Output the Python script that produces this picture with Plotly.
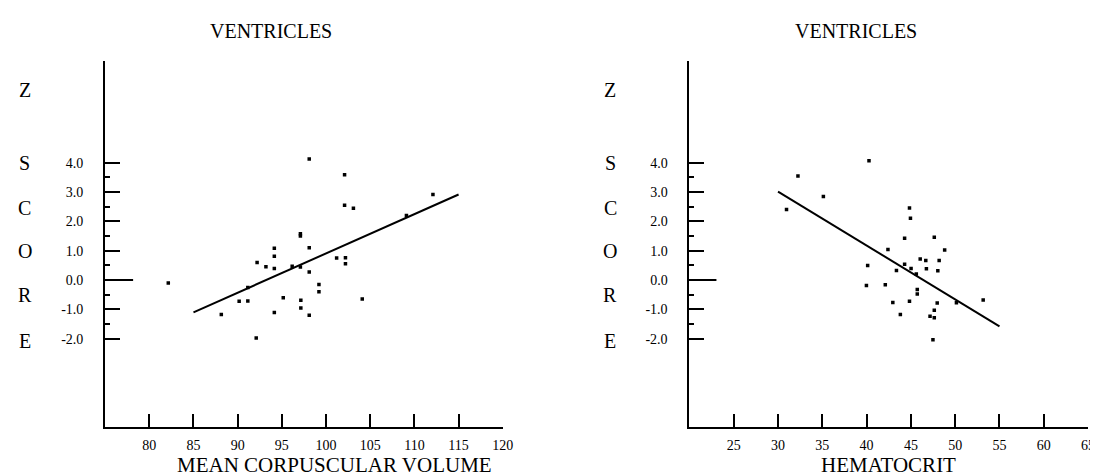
import plotly.graph_objects as go

# ---------------- data ----------------
mcv_x = [82.15, 88.15, 90.17, 91.15, 91.15, 92.2, 92.1, 93.2, 94.15, 94.15, 94.15, 94.15,
         95.16, 96.17, 97.1, 97.1, 97.1, 97.15, 97.15, 98.1, 98.1, 98.1, 98.1, 99.2, 99.2,
         101.2, 102.1, 102.1, 102.2, 102.2, 103.1, 104.1, 109.1, 112.1]
mcv_z = [-0.10, -1.17, -0.72, -0.71, -0.25, 0.60, -1.97, 0.46, 1.09, 0.81, 0.40, -1.10,
         -0.60, 0.47, 1.58, 1.50, 0.45, -0.69, -0.95, 4.13, 1.10, 0.28, -1.20, -0.15, -0.40,
         0.75, 3.59, 2.55, 0.76, 0.56, 2.45, -0.64, 2.20, 2.92]
mcv_fit_x = [85, 115]
mcv_fit_z = [-1.10, 2.92]

hct_x = [30.96, 32.25, 35.12, 40.27, 40.12, 39.98, 42.11, 42.41, 42.96, 43.37, 43.81, 44.29,
         44.29, 44.84, 44.95, 44.84, 45.02, 45.61, 45.72, 45.72, 46.05, 46.68, 46.75, 47.16,
         47.64, 47.64, 47.64, 47.49, 47.97, 48.04, 48.19, 48.81, 50.14, 53.16]
hct_z = [2.41, 3.55, 2.85, 4.07, 0.50, -0.18, -0.16, 1.04, -0.76, 0.33, -1.17, 1.43,
         0.54, 2.46, 2.11, -0.72, 0.40, 0.21, -0.32, -0.47, 0.72, 0.67, 0.39, -1.23,
         1.46, -1.03, -1.28, -2.03, -0.78, 0.32, 0.67, 1.03, -0.77, -0.68]
hct_fit_x = [30, 55]
hct_fit_z = [3.02, -1.58]

z_ticks = [-2, -1, 0, 1, 2, 3, 4]
z_ticktext = ["-2.0", "-1.0", "0.0", "1.0", "2.0", "3.0", "4.0"]
z_minor = [-1.5, -0.5, 0.5, 1.5, 2.5, 3.5]
mcv_ticks = [80, 85, 90, 95, 100, 105, 110, 115, 120]
hct_ticks = [25, 30, 35, 40, 45, 50, 55, 60, 65]

title_text = "VENTRICLES"
xlabel_left = "MEAN CORPUSCULAR VOLUME"
xlabel_right = "HEMATOCRIT"
ylabel_letters = ["Z", "S", "C", "O", "R", "E"]

# ---------------- figure ----------------
W, H = 1098, 475
FONT = "Liberation Serif, Times New Roman, serif"

fig = go.Figure()
fig.add_trace(go.Scatter(x=mcv_x, y=mcv_z, mode="markers", xaxis="x", yaxis="y",
                         marker=dict(symbol="square", size=3.5, color="black"), showlegend=False))
fig.add_trace(go.Scatter(x=mcv_fit_x, y=mcv_fit_z, mode="lines", xaxis="x", yaxis="y",
                         line=dict(color="black", width=2), showlegend=False))
fig.add_trace(go.Scatter(x=hct_x, y=hct_z, mode="markers", xaxis="x2", yaxis="y2",
                         marker=dict(symbol="square", size=3.5, color="black"), showlegend=False))
fig.add_trace(go.Scatter(x=hct_fit_x, y=hct_fit_z, mode="lines", xaxis="x2", yaxis="y2",
                         line=dict(color="black", width=2), showlegend=False))

ydom = [1 - 418.5 / H, 1 - 53 / H]
left_dom = [98 / W, 499.3 / W]
right_dom = [687.7 / W, 1090 / W]
yrange = [-4.99, 7.47]

xcommon = dict(showgrid=False, zeroline=False, showline=True, linecolor="black", linewidth=2,
               ticks="inside", ticklen=13, tickwidth=2, tickcolor="black",
               tickfont=dict(family=FONT, size=14, color="black"), ticklabelstandoff=5)
ycommon = dict(showgrid=False, zeroline=False, showline=True, linecolor="black", linewidth=2,
               range=yrange, tickmode="array", tickvals=z_ticks, ticktext=z_ticktext,
               ticks="inside", ticklen=15, tickwidth=2, tickcolor="black",
               minor=dict(tickmode="array", tickvals=z_minor, ticks="inside", ticklen=5,
                          tickwidth=2, tickcolor="black", showgrid=False),
               tickfont=dict(family=FONT, size=14, color="black"), ticklabelstandoff=17)

fig.update_layout(
    width=W, height=H,
    margin=dict(l=0, r=0, t=0, b=0),
    paper_bgcolor="white", plot_bgcolor="white",
    xaxis=dict(domain=left_dom, range=[75, 120], tickmode="array", tickvals=mcv_ticks,
               anchor="y", **xcommon),
    yaxis=dict(domain=ydom, anchor="x", **ycommon),
    xaxis2=dict(domain=right_dom, range=[20, 65], tickmode="array", tickvals=hct_ticks,
                anchor="y2", **xcommon),
    yaxis2=dict(domain=ydom, anchor="x2", **ycommon),
)

# longer zero tick on each y axis
fig.add_shape(type="line", xref="x", yref="y", xsizemode="pixel", xanchor=75,
              x0=0, x1=28, y0=0, y1=0, line=dict(color="black", width=2))
fig.add_shape(type="line", xref="x2", yref="y2", xsizemode="pixel", xanchor=20,
              x0=0, x1=27, y0=0, y1=0, line=dict(color="black", width=2))

def ann(text, xpx, ypx, size):
    fig.add_annotation(text=text, x=xpx / W, y=1 - ypx / H, xref="paper", yref="paper",
                       xanchor="center", yanchor="middle", showarrow=False,
                       font=dict(family=FONT, size=size, color="black"))

# titles
ann(title_text, 265, 23, 20)
ann(title_text, 855.5, 23, 20)
# x-axis labels
ann(xlabel_left, 329, 457, 21)
ann(xlabel_right, 889, 457, 21)
# Z SCORE letters
ys = [81.7, 155, 200, 242.7, 287.3, 332.7]
for letter, yy in zip(ylabel_letters, ys):
    ann(letter, 17, yy, 20)
    ann(letter, 608, yy, 20)

fig.write_html("out.html")
